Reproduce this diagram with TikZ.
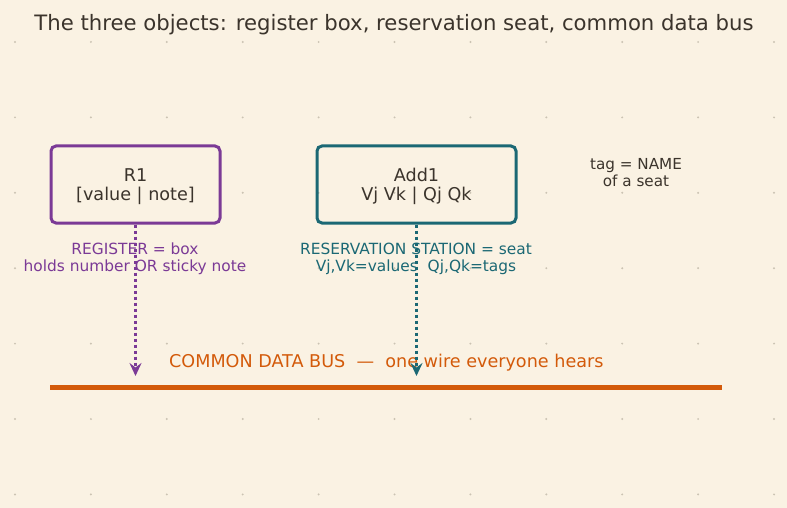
\documentclass[tikz,border=0pt]{standalone}
\usepackage{fontspec}
\setmainfont{DejaVu Sans}
\usetikzlibrary{arrows.meta,positioning}
\begin{document}
\begin{tikzpicture}[
  x=1pt, y=-1pt,
  unit/.style={
    draw, line width=3pt, rounded corners=5pt,
    minimum height=77pt, inner sep=0pt, align=center,
    text=Cink, font=\fontsize{17.6}{20}\selectfont
  },
  note/.style={
    inner sep=0pt, align=center, font=\fontsize{15.4}{17}\selectfont
  },
  feed/.style={
    line width=2.4pt, dash pattern=on 3.5pt off 2.5pt,
    -{Stealth[length=13pt,width=12pt,inset=4.5pt]}
  }
]
\definecolor{Cbg}{HTML}{FAF2E3}
\definecolor{Cink}{HTML}{3B342C}
\definecolor{Cdot}{HTML}{CBC3B3}
\definecolor{Creg}{HTML}{7B3A96}
\definecolor{Crs}{HTML}{1B6874}
\definecolor{Cbus}{HTML}{D35A0A}
\def\gx{75.9}
\def\gy{75.4}
%% BACKGROUND AND DOT GRID
\fill[Cbg] (0,0) rectangle (787,508);
\useasboundingbox (0,0) rectangle (787,508);
\foreach \i in {0,...,10}
  \foreach \j in {0,...,6}
    \fill[Cdot] (15+\i*\gx, 42+\j*\gy) circle (1.1);
%% TITLE
\node[text=Cink, font=\fontsize{21.2}{24}\selectfont] (title) at (394,25)
  {The three objects: register box, reservation seat, common data bus};
%% REGISTER AND RESERVATION STATION
\node[unit, draw=Creg, minimum width=169pt] (r1)   at (135.5,184.5)
  {\raisebox{-2.5pt}[\height][\depth]{\begin{tabular}{@{}c@{}}R1\\{}[value | note]\end{tabular}}};
\node[unit, draw=Crs,  minimum width=199pt] (add1) at (416.5,184.5)
  {\raisebox{-2.5pt}[\height][\depth]{\begin{tabular}{@{}c@{}}Add1\\Vj Vk | Qj Qk\end{tabular}}};
\node[note, text=Creg] (r1note)   at (135,259) {REGISTER = box\\holds number OR sticky note};
\node[note, text=Crs]  (add1note) at (416,259) {RESERVATION STATION = seat\\Vj,Vk=values\ \ Qj,Qk=tags};
\node[note, text=Cink, font=\fontsize{15.2}{17}\selectfont] (tagnote) at (636,172.5) {tag = NAME\\of a seat};
%% COMMON DATA BUS
\coordinate (busL) at (50,387);
\coordinate (busR) at (722,387);
\draw[Cbus, line width=5pt] (busL) -- (busR);
\node[anchor=west, inner sep=0pt, text=Cbus, font=\fontsize{17.6}{20}\selectfont] (buslabel) at (169,362.5)
  {COMMON DATA BUS\ \ —\ \ one wire everyone hears};
\draw[feed, Creg] (r1.south)   -- ([yshift=11pt]r1.south |- busL);
\draw[feed, Crs]  (add1.south) -- ([yshift=11pt]add1.south |- busL);
\end{tikzpicture}
\end{document}
